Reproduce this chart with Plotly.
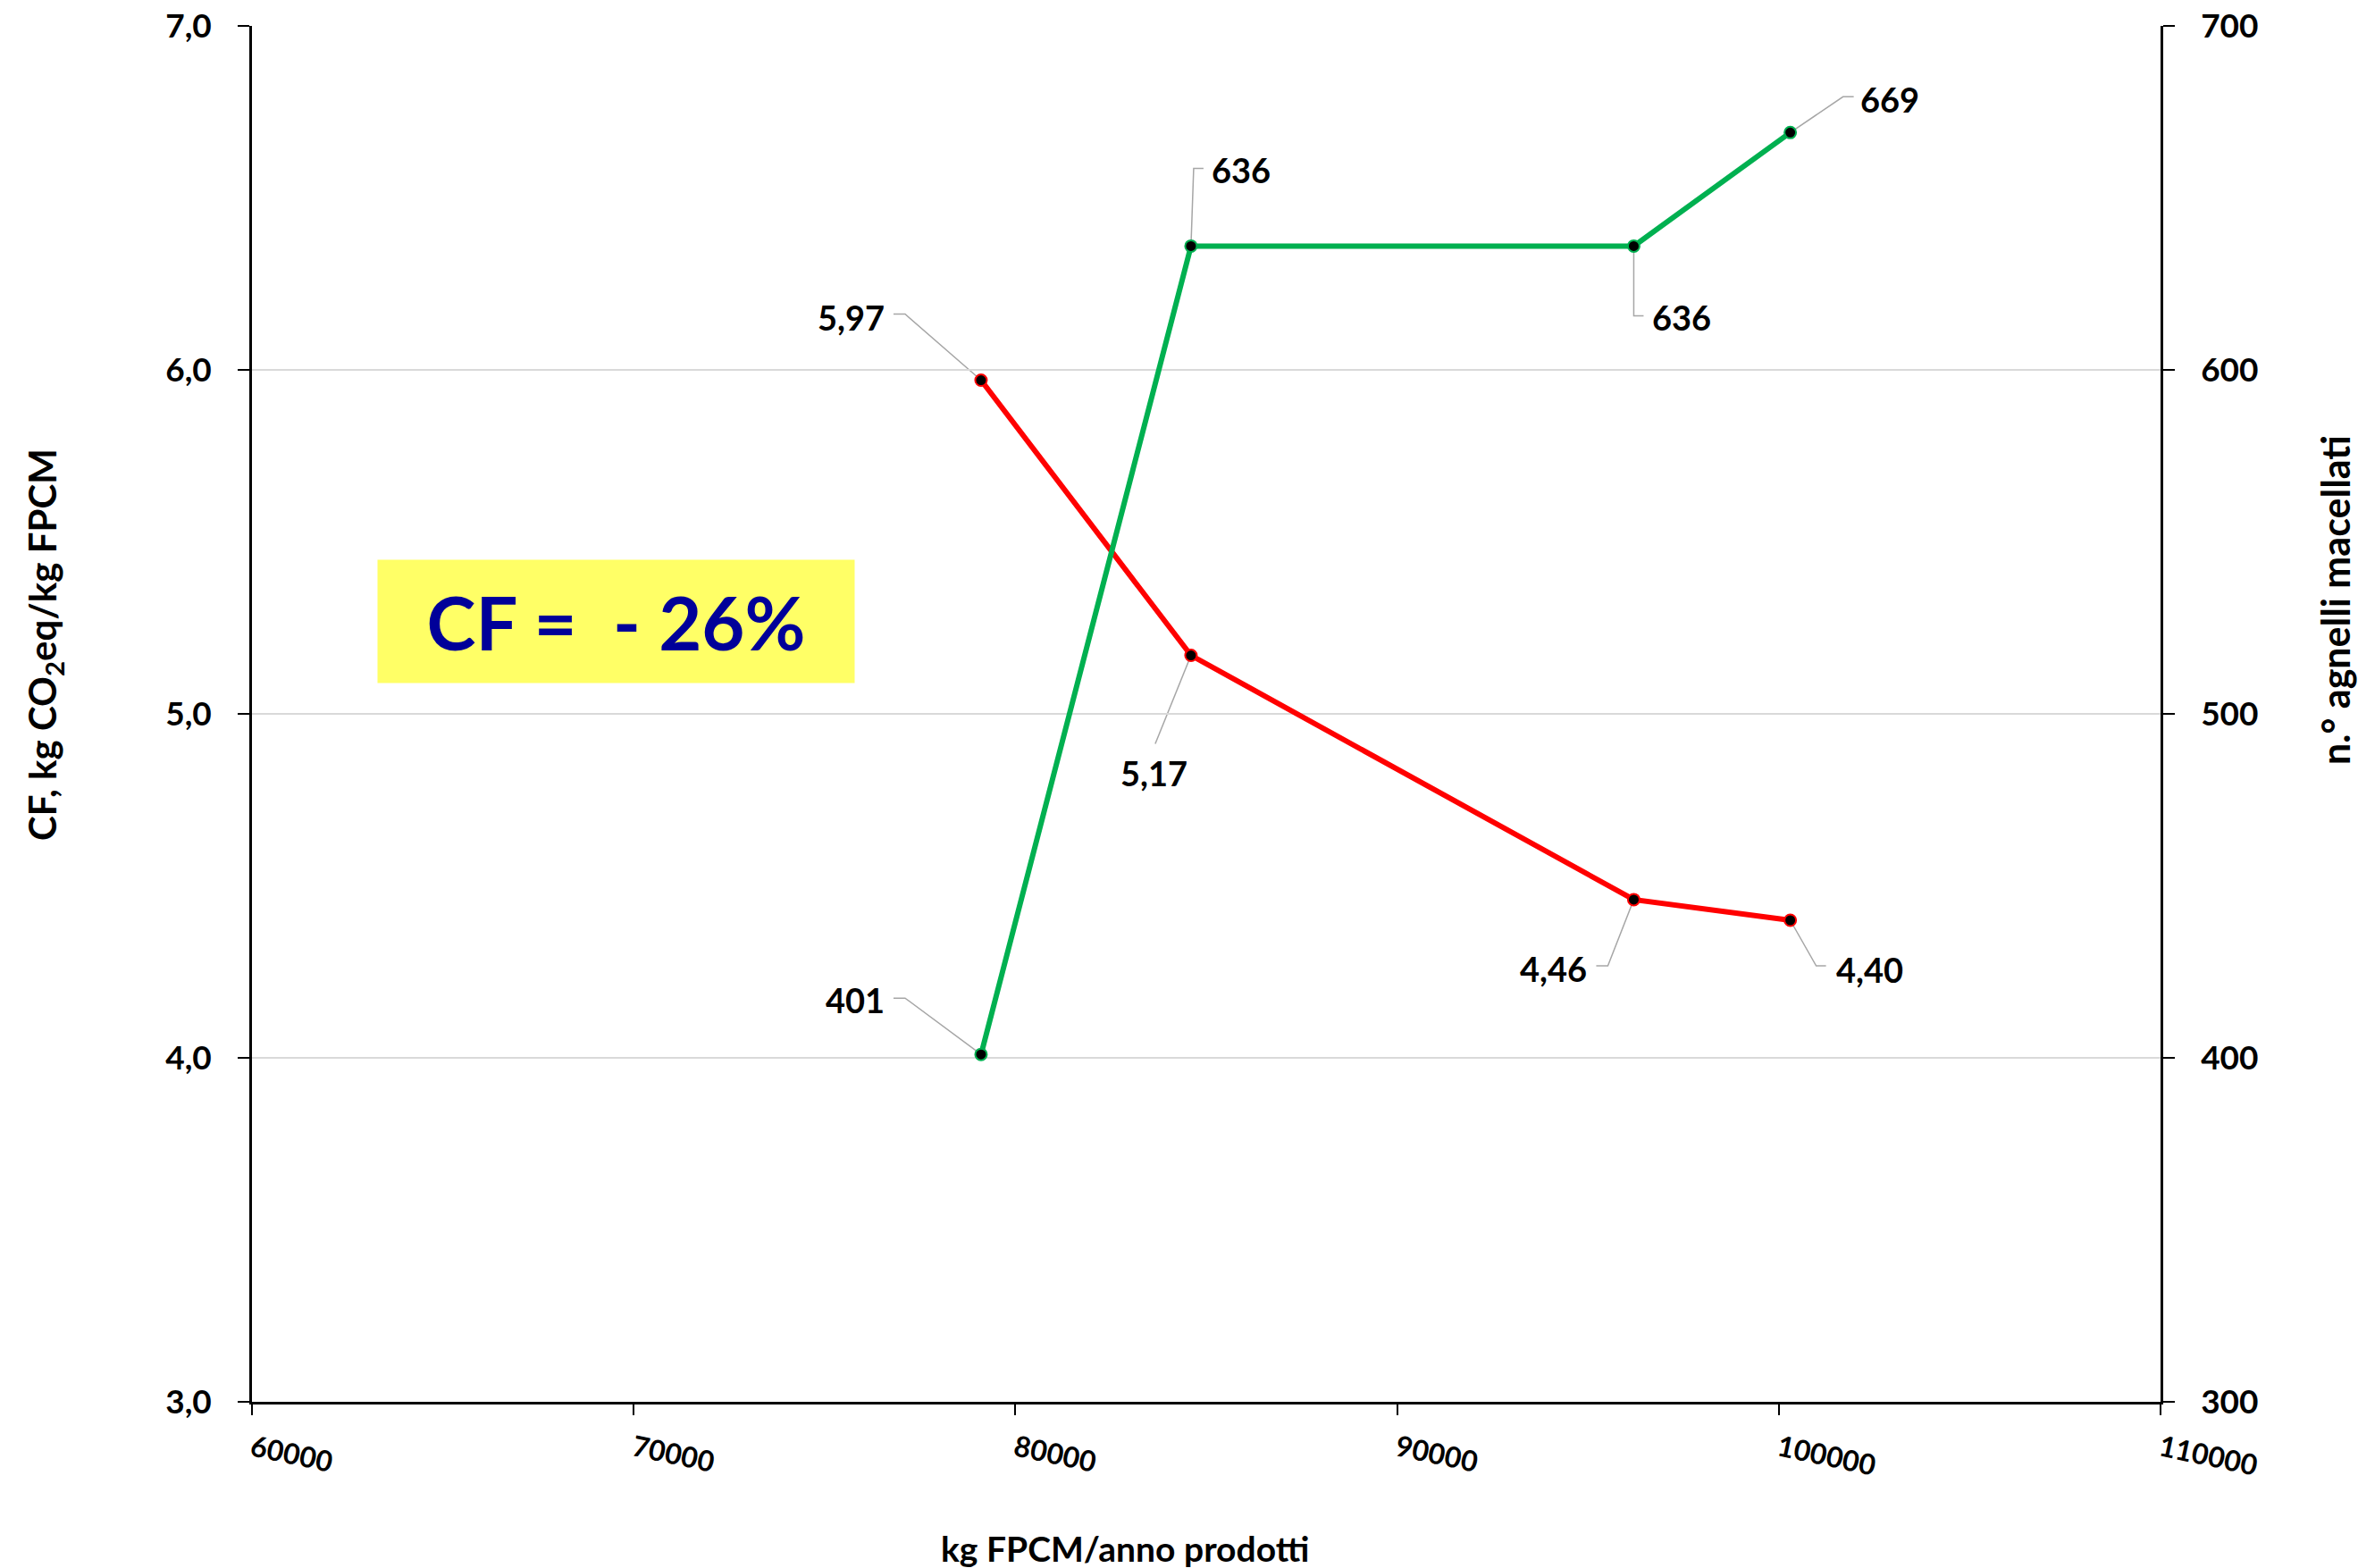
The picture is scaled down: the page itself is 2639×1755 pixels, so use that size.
import plotly.graph_objects as go

# --- data -------------------------------------------------------------
milk_kg = [79100, 84600, 96200, 100300]          # kg FPCM/anno prodotti
cf_values = [5.97, 5.17, 4.46, 4.40]             # kg CO2eq / kg FPCM
lambs = [401, 636, 636, 669]                     # n.° agnelli macellati

x_ticks = [60000, 70000, 80000, 90000, 100000, 110000]
cf_ticks = [3.0, 4.0, 5.0, 6.0, 7.0]
lamb_ticks = [300, 400, 500, 600, 700]

cf_change_text = "CF =\u00a0 - 26%"

# --- label placement (pixel offsets from each point) ------------------
# leader: list of (dx, dy) pixel vertices, dy positive = up
cf_label_style = [
    dict(leader=[(-85, 74), (-98, 74)], xshift=-106, yshift=71, xanchor="right"),
    dict(leader=[(-40, -99)], xshift=-41, yshift=-131, xanchor="center"),
    dict(leader=[(-29, -74), (-42, -74)], xshift=-50, yshift=-77, xanchor="right"),
    dict(leader=[(29, -51), (40, -51)], xshift=49, yshift=-55, xanchor="left"),
]
lamb_label_style = [
    dict(leader=[(-85, 63), (-98, 63)], xshift=-106, yshift=61, xanchor="right"),
    dict(leader=[(3, 87), (14, 87)], xshift=21, yshift=85, xanchor="left"),
    dict(leader=[(0, -78), (11, -78)], xshift=19, yshift=-80, xanchor="left"),
    dict(leader=[(59, 40), (71, 40)], xshift=76, yshift=37, xanchor="left"),
]

FONT = "Lato, 'Open Sans', sans-serif"
RED = "#FF0000"
GREEN = "#00B050"
LEADER = "#A6A6A6"

fig = go.Figure()

fig.add_trace(go.Scatter(
    x=milk_kg, y=cf_values, mode="lines+markers", yaxis="y",
    line=dict(color=RED, width=6),
    marker=dict(size=13, color="black", line=dict(color=RED, width=2)),
    showlegend=False, hoverinfo="x+y",
))
fig.add_trace(go.Scatter(
    x=milk_kg, y=lambs, mode="lines+markers", yaxis="y2",
    line=dict(color=GREEN, width=6),
    marker=dict(size=13, color="black", line=dict(color=GREEN, width=2)),
    showlegend=False, hoverinfo="x+y",
))

shapes = []
annotations = []


def add_labels(xs, ys, texts, styles, yref):
    for xv, yv, txt, st in zip(xs, ys, texts, styles):
        path = "M0,0 " + " ".join(f"L{dx},{dy}" for dx, dy in st["leader"])
        shapes.append(dict(
            type="path", xref="x", yref=yref,
            xsizemode="pixel", ysizemode="pixel",
            xanchor=xv, yanchor=yv, path=path,
            line=dict(color=LEADER, width=1.5), layer="below",
        ))
        annotations.append(dict(
            x=xv, y=yv, xref="x", yref=yref, text=txt, showarrow=False,
            xanchor=st["xanchor"], yanchor="middle",
            xshift=st["xshift"], yshift=st["yshift"],
            font=dict(family=FONT, size=38, color="black", weight="bold"),
        ))


add_labels(milk_kg, cf_values, [f"{v:.2f}".replace(".", ",") for v in cf_values],
           cf_label_style, "y")
add_labels(milk_kg, lambs, [str(v) for v in lambs], lamb_label_style, "y2")

# highlighted change box
annotations.append(dict(
    x=0.191, y=0.5675, xref="paper", yref="paper", text=f"<b>{cf_change_text}</b>",
    showarrow=False, xanchor="center", yanchor="middle",
    width=531, height=135, bgcolor="#FFFF66",
    font=dict(family=FONT, size=83, color="#000099"),
))

# axis titles
annotations.append(dict(
    x=0, y=0.55, xref="paper", yref="paper", xshift=-232,
    text="<b>CF, kg CO<sub>2</sub>eq/kg FPCM</b>", textangle=-90,
    showarrow=False, xanchor="center", yanchor="middle",
    font=dict(family=FONT, size=42, color="black"),
))
annotations.append(dict(
    x=1, y=0.5825, xref="paper", yref="paper", xshift=196,
    text="<b>n.° agnelli macellati</b>", textangle=-90,
    showarrow=False, xanchor="center", yanchor="middle",
    font=dict(family=FONT, size=43, color="black"),
))
annotations.append(dict(
    x=0.4574, y=0, xref="paper", yref="paper", yshift=-164,
    text="<b>kg FPCM/anno prodotti</b>",
    showarrow=False, xanchor="center", yanchor="middle",
    font=dict(family=FONT, size=39, color="black"),
))

fig.update_layout(
    width=2639, height=1755,
    margin=dict(l=282, r=221, t=29, b=186),
    paper_bgcolor="white", plot_bgcolor="white",
    separators=",.",
    font=dict(family=FONT, color="black"),
    shapes=shapes, annotations=annotations,
    xaxis=dict(
        range=[x_ticks[0], x_ticks[-1]], tickvals=x_ticks, tickformat="d",
        showgrid=False, zeroline=False, automargin=False,
        showline=True, linecolor="black", linewidth=2.5,
        ticks="outside", ticklen=12, tickwidth=2, tickcolor="black",
        tickangle=12, ticklabelstandoff=7,
        tickfont=dict(family=FONT, size=32, color="black", weight="bold"),
    ),
    yaxis=dict(
        range=[cf_ticks[0], cf_ticks[-1]], tickvals=cf_ticks, tickformat=".1f",
        showgrid=True, gridcolor="#D9D9D9", gridwidth=2, zeroline=False,
        automargin=False,
        showline=True, linecolor="black", linewidth=2.5,
        ticks="outside", ticklen=13, tickwidth=2, tickcolor="black",
        ticklabelstandoff=22,
        tickfont=dict(family=FONT, size=37, color="black", weight="bold"),
    ),
    yaxis2=dict(
        range=[lamb_ticks[0], lamb_ticks[-1]], tickvals=lamb_ticks,
        overlaying="y", side="right", automargin=False,
        showgrid=False, zeroline=False,
        showline=True, linecolor="black", linewidth=2.5,
        ticks="outside", ticklen=13, tickwidth=2, tickcolor="black",
        ticklabelstandoff=22,
        tickfont=dict(family=FONT, size=37, color="black", weight="bold"),
    ),
)

fig.write_html("out.html")
